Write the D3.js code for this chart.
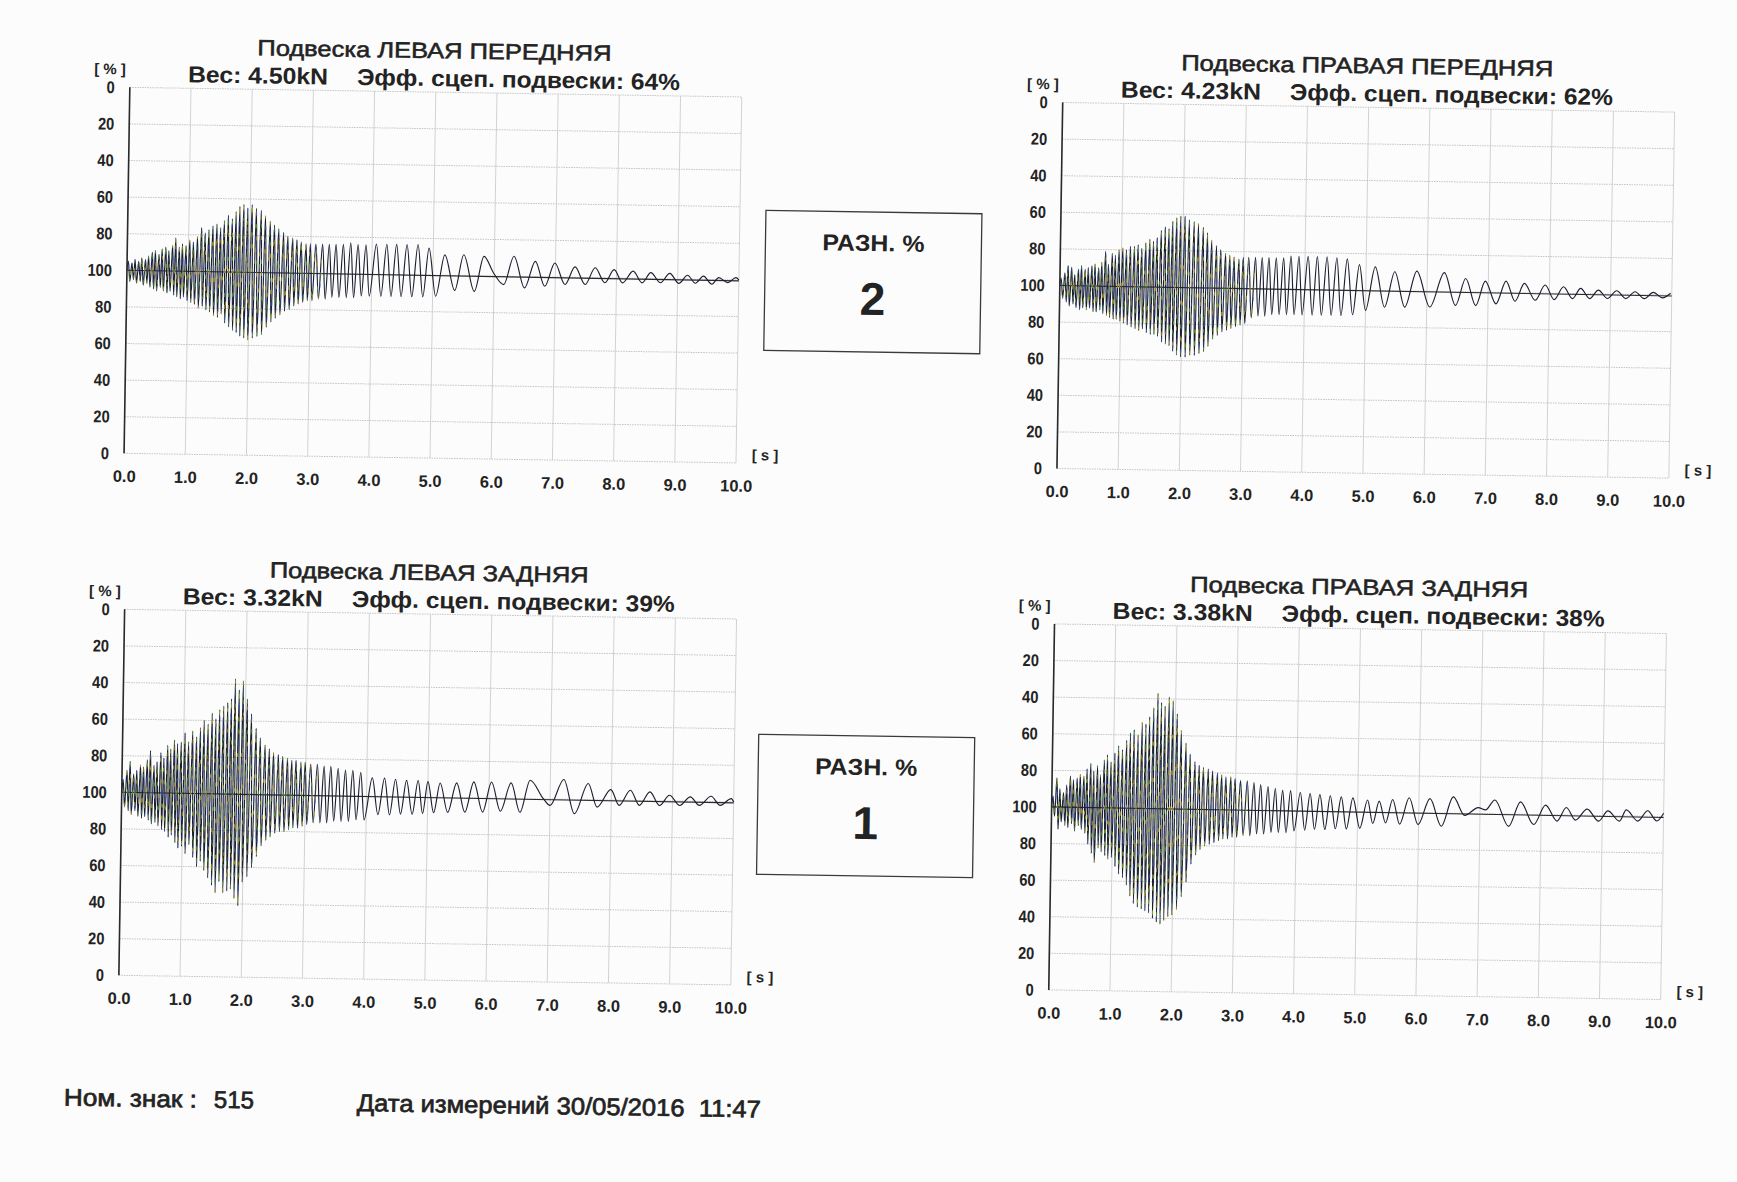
<!DOCTYPE html>
<html><head><meta charset="utf-8">
<script src="https://cdn.jsdelivr.net/npm/d3@7/dist/d3.min.js"></script>
<style>
html,body{margin:0;padding:0;background:#fcfcfc;}
svg{display:block;}
text{font-family:"Liberation Sans",Arial,sans-serif;fill:#232323;white-space:pre;}
</style></head><body>
<svg id="chart" width="1737" height="1182"></svg>
<script>
// ---------------- DATA ----------------
const timeTicks = [0,1,2,3,4,5,6,7,8,9,10];
const yTicks = [0,20,40,60,80,100,120,140,160,180,200];
const yTickLabels = ["0","20","40","60","80","100","80","60","40","20","0"];

const panelTitles = ["Подвеска ЛЕВАЯ ПЕРЕДНЯЯ","Подвеска ПРАВАЯ ПЕРЕДНЯЯ","Подвеска ЛЕВАЯ ЗАДНЯЯ","Подвеска ПРАВАЯ ЗАДНЯЯ"];
const panelWeights = ["Вес: 4.50kN","Вес: 4.23kN","Вес: 3.32kN","Вес: 3.38kN"];
const panelEff = ["Эфф. сцеп. подвески: 64%","Эфф. сцеп. подвески: 62%","Эфф. сцеп. подвески: 39%","Эфф. сцеп. подвески: 38%"];
const diffLabel = "РАЗН. %";
const diffValues = ["2","1"];
const plateLabel = "Ном. знак :";
const plateValue = "515";
const dateLabel = "Дата измерений 30/05/2016  11:47";

// mean line of every trace [t, value]
const meanLine = [[0,100],[10,99.5]];

// shared time grid of the dense part (alternating peak / trough), s
const denseTimes = [
 0.02,0.05,0.08,0.11,0.13,0.16,0.19,0.22,0.24,0.27,0.30,0.33,0.35,0.38,0.41,0.44,0.46,0.49,
 0.52,0.55,0.57,0.60,0.63,0.66,0.68,0.71,0.74,0.77,0.79,0.82,0.85,0.88,0.90,0.93,0.96,0.99,
 1.02,1.05,1.08,1.11,1.145,1.175,1.21,1.24,1.27,1.30,1.33,1.36,1.395,1.425,1.46,1.49,
 1.52,1.55,1.58,1.61,1.645,1.675,1.71,1.74,1.77,1.80,1.83,1.86,1.895,1.925,1.96,1.99,
 2.03,2.065,2.10,2.14,2.18,2.215,2.25,2.29,2.33,2.365,2.40,2.435,2.47,2.51,
 2.55,2.585,2.62,2.66,2.70,2.735,2.77,2.805,2.84,2.88,2.92,2.955,2.99,3.03,
 3.08,3.135,3.19,3.245,3.30,3.355,3.41,3.47,3.53,3.59,3.65,3.71,3.77,3.835,3.90,3.965
];

// dense values (%, 100 = static), front left
const denseLF = [
 105,94,104,95,106,93,105,94,107,92,106,93,108,91,110,90,111,89,109,91,112,89,113,88,111,89,114,87,118,86,113,85,115,86,114,84,
 117,83,116,82,119,80,124,81,121,79,123,78,125,76,126,75,124,77,128,72,131,70,129,68,133,67,136,65,137,64,135,63,
 137,64,135,65,134,66,131,70,128,73,126,75,124,77,122,79,120,80,119,82,118,83,117,84,116,85,116,85,
 116,86,116,86,116,87,116,87,116,87,117,87,116,88,116,88
];
const tailLF = [
 [4.07,116.5],[4.155,88],[4.24,116.5],[4.32,88],[4.40,116.5],[4.485,88],[4.57,116.5],[4.66,88],[4.75,116.6],[4.84,88],
 [4.93,114.7],[5.05,88.5],[5.19,111.2],[5.36,91.8],[5.50,111.4],[5.68,91.5],[5.83,110.7],[5.99,101.7],[6.16,95.4],
 [6.32,111.0],[6.50,93.8],[6.67,108.4],[6.83,94.9],[6.99,107.7],[7.16,96.0],[7.32,105.7],[7.49,96.2],[7.65,105.4],
 [7.81,97.3],[7.96,104.6],[8.10,97.4],[8.27,103.9],[8.42,97.6],[8.56,103.2],[8.72,97.8],[8.87,103.0],[9.02,97.6],
 [9.16,102.1],[9.29,97.8],[9.42,101.8],[9.56,97.4],[9.67,101.1],[9.82,98.4],[9.95,101.2],[10.0,100.0]
];

// front right
const denseRF = [
 104,93,107,91,111,89,110,90,106,88,109,87,111,88,109,87,110,88,111,86,112,86,110,87,113,85,119,84,112,83,118,82,117,82,120,81,
 121,80,120,79,122,78,122,77,123,76,121,77,124,75,126,74,125,74,127,73,131,70,133,69,132,68,136,65,138,63,139,62,
 139,62,137,63,136,63,135,64,133,65,130,68,126,72,123,74,121,76,119,77,118,78,117,79,116,80,117,81,
 117,84,117,85,117,85,117,86,117,86,117,86,118,86,118,86
];
const tailRF = [
 [4.05,118],[4.13,86],[4.20,118],[4.28,86],[4.36,118],[4.44,86],[4.52,117.5],[4.60,86],[4.69,117],[4.79,86.5],
 [4.89,114],[5.00,89],[5.15,112.9],[5.31,90.9],[5.47,110.4],[5.64,91.1],[5.83,110.9],[6.05,91.4],[6.28,110.3],
 [6.47,92.5],[6.63,107.3],[6.80,92.6],[6.95,106.0],[7.13,93.7],[7.29,106.2],[7.44,95.3],[7.59,105.1],[7.77,96.0],
 [7.93,104.4],[8.08,96.5],[8.23,103.6],[8.38,97.2],[8.51,102.9],[8.66,97.4],[8.80,102.1],[8.95,97.6],[9.10,101.9],
 [9.25,97.7],[9.40,101.5],[9.55,97.8],[9.70,101.3],[9.85,98.4],[9.98,101.0]
];

// rear left
const denseLR = [
 107,92,112,90,117,88,110,90,112,87,115,86,114,87,118,85,123,83,115,84,117,82,122,80,119,79,126,76,124,77,129,73,127,70,128,71,
 133,67,128,72,134,65,131,60,136,63,140,58,138,54,144,50,141,46,146,52,148,46,150,47,152,48,163,43,157,39,162,52,
 152,55,144,60,136,66,131,72,127,75,125,77,123,79,122,80,121,80,120,81,119,82,119,82,118,83,118,84,
 117,85,117,85,116,85,116,86,115,86,114,86,114,87,113,87
];
const tailLR = [
 [4.09,110],[4.19,90],[4.29,110],[4.38,90],[4.47,109.5],[4.56,90.5],[4.65,109],[4.75,90.5],[4.84,109],[4.92,91],
 [5.00,108.5],[5.10,91.5],[5.20,107.8],[5.33,91.8],[5.47,108],[5.61,92.1],[5.75,108.7],[5.90,92.3],[6.04,108.8],
 [6.19,92.9],[6.36,108.5],[6.51,92.5],[6.67,110.1],[6.89,100.1],[7.00,96.5],[7.22,110.8],[7.40,92.2],[7.62,108.8],
 [7.77,96.0],[7.99,105.7],[8.13,97.1],[8.31,105.5],[8.46,97.3],[8.63,104.8],[8.79,97.4],[8.95,103.1],[9.12,97.6],
 [9.29,102.4],[9.44,97.8],[9.63,102.9],[9.78,98.0],[9.96,101.8],[10.0,100.0]
];

// rear right
const denseRR = [
 106,95,116,88,110,92,108,90,112,89,117,91,115,87,116,90,118,88,117,86,121,80,124,75,120,70,123,78,118,76,126,74,129,72,125,73,
 130,68,134,64,132,62,137,58,141,52,143,48,140,46,147,45,146,44,150,43,155,40,163,38,158,37,156,39,161,41,159,42,
 152,45,143,52,136,60,130,70,126,75,124,78,123,80,122,81,121,82,120,83,119,84,118,84,118,85,117,85,
 116,86,116,86,115,87,114,87,113,88,112,88,111,88,111,89
];
const tailRR = [
 [4.06,110],[4.14,89.5],[4.22,109.5],[4.30,90],[4.38,109],[4.47,90],[4.55,108.5],[4.64,90.5],[4.73,108],[4.82,90.5],
 [4.92,107.5],[5.04,91],[5.16,106.5],[5.25,93.7],[5.35,106],[5.46,94.1],[5.57,107],[5.69,93.6],[5.84,108.1],[5.99,93.5],
 [6.18,107.8],[6.37,92.8],[6.56,108.9],[6.75,98.9],[6.97,103.3],[7.09,102.1],[7.24,107.6],[7.47,93.3],[7.66,106.8],
 [7.88,94.5],[8.07,105.2],[8.26,96.6],[8.41,104.1],[8.56,97.3],[8.75,103.4],[8.94,96.9],[9.09,102.6],[9.28,97.1],
 [9.39,103.3],[9.58,97.3],[9.74,103.0],[9.89,97.5],[10.0,101.8]
];

// ---------------- LAYOUT ----------------
const svg = d3.select("#chart");
svg.append("rect").attr("width",1737).attr("height",1182).attr("fill","#fcfcfc");
const page = svg.append("g").attr("transform","rotate(0.9 868 591)");

const PW = 612, PH = 366;
const panelPos = [[122,99],[1055,99.5],[125,621],[1055,621]];
const titleLen = [354,372,319,338];
const denseSets = [denseLF, denseRF, denseLR, denseRR];
const tailSets = [tailLF, tailRF, tailLR, tailRR];
const fringe = [["#d4c21c",0],["#66b844",12],["#3b58bb",24]];

function buildTrace(dense, tail){
  const pts = [[0,100]];
  denseTimes.forEach((t,i)=>pts.push([t, dense[i]]));
  return pts.concat(tail);
}
function condense(sel, f){
  sel.each(function(){
    const l = this.getComputedTextLength();
    d3.select(this).attr("textLength", l*f).attr("lengthAdjust","spacingAndGlyphs");
  });
}

panelPos.forEach((pos,k)=>{
  const [left, top] = pos;
  const x = d3.scaleLinear().domain([0,10]).range([left, left+PW]);
  const y = d3.scaleLinear().domain([0,200]).range([top+PH, top]);
  const g = page.append("g");

  // grid
  g.append("g").selectAll("line").data(timeTicks).join("line")
    .attr("x1",d=>x(d)).attr("x2",d=>x(d)).attr("y1",y(0)).attr("y2",y(200))
    .attr("stroke","#d2d2d2").attr("stroke-width",1);
  g.append("g").selectAll("line").data(yTicks).join("line")
    .attr("x1",x(0)).attr("x2",x(10)).attr("y1",d=>y(d)).attr("y2",d=>y(d))
    .attr("stroke","#c4c4c4").attr("stroke-width",1).attr("stroke-dasharray","1.5,1");

  // axes
  const ya = g.append("g").attr("transform",`translate(${x(0)},0)`)
    .call(d3.axisLeft(y).tickValues(yTicks).tickSize(0).tickPadding(15)
      .tickFormat((d,i)=>yTickLabels[i]));
  ya.select(".domain").remove();
  ya.selectAll("text").attr("font-size",17).attr("font-weight","bold")
    .attr("font-family","Liberation Sans, Arial, sans-serif").attr("fill","#232323");
  condense(ya.selectAll("text"), 0.86);
  const xa = g.append("g").attr("transform",`translate(0,${y(0)})`)
    .call(d3.axisBottom(x).tickValues(timeTicks).tickSize(0).tickPadding(17)
      .tickFormat(d3.format(".1f")));
  xa.select(".domain").remove();
  xa.selectAll("text").attr("font-size",16.5).attr("font-weight","bold")
    .attr("font-family","Liberation Sans, Arial, sans-serif").attr("fill","#232323");

  // mean line
  g.append("path").datum(meanLine)
    .attr("d", d3.line().x(d=>x(d[0])).y(d=>y(d[1])))
    .attr("fill","none").attr("stroke","#2a2a2a").attr("stroke-width",1.1);

  // trace
  const trace = buildTrace(denseSets[k], tailSets[k]);
  const lineGen = d3.line().x(d=>x(d[0])).y(d=>y(d[1])).curve(d3.curveMonotoneX);
  g.append("path").datum(trace).attr("d", lineGen)
    .attr("fill","none").attr("stroke","#1c1f30").attr("stroke-width",1.15);
  // scanner colour fringing over the dense part
  const densePart = trace.filter(d=>d[0] < 3.2);
  fringe.forEach(([c,off])=>{
    g.append("path").datum(densePart).attr("d", lineGen)
      .attr("fill","none").attr("stroke",c).attr("stroke-width",1.1)
      .attr("stroke-dasharray","4,32").attr("stroke-dashoffset",off).attr("opacity",0.6);
  });

  // y axis line
  g.append("line").attr("x1",x(0)).attr("x2",x(0)).attr("y1",y(0)).attr("y2",y(200))
    .attr("stroke","#2a2a2a").attr("stroke-width",1.6);

  // unit labels
  g.append("text").attr("x",left-20).attr("y",top-13).attr("text-anchor","middle")
    .attr("font-size",15).attr("font-weight","bold").text("[ % ]");
  g.append("text").attr("x",left+PW+29).attr("y",top+PH-3).attr("text-anchor","middle")
    .attr("font-size",15).attr("font-weight","bold").text("[ s ]");

  // titles
  g.append("text").attr("x",left+304).attr("y",top-34).attr("text-anchor","middle")
    .attr("font-size",22).attr("stroke","#232323").attr("stroke-width",0.55)
    .attr("textLength",titleLen[k]).attr("lengthAdjust","spacingAndGlyphs")
    .text(panelTitles[k]);
  g.append("text").attr("x",left+58).attr("y",top-6)
    .attr("font-size",23).attr("font-weight","bold")
    .attr("textLength",140).attr("lengthAdjust","spacingAndGlyphs")
    .text(panelWeights[k]);
  g.append("text").attr("x",left+227).attr("y",top-6)
    .attr("font-size",23).attr("font-weight","bold")
    .attr("textLength",323).attr("lengthAdjust","spacingAndGlyphs")
    .text(panelEff[k]);
});

// difference boxes
const boxPos = [[760,212],[761,736]];
boxPos.forEach((b,i)=>{
  const g = page.append("g");
  g.append("rect").attr("x",b[0]).attr("y",b[1]).attr("width",216).attr("height",140)
    .attr("fill","none").attr("stroke","#3a3a3a").attr("stroke-width",1.3);
  g.append("text").attr("x",b[0]+108).attr("y",b[1]+39).attr("text-anchor","middle")
    .attr("font-size",23).attr("font-weight","bold")
    .attr("textLength",102).attr("lengthAdjust","spacingAndGlyphs").text(diffLabel);
  g.append("text").attr("x",b[0]+108).attr("y",b[1]+103).attr("text-anchor","middle")
    .attr("font-size",46).attr("font-weight","bold").text(diffValues[i]);
});

// footer
const foot = page.append("g");
foot.append("text").attr("x",72).attr("y",1118).attr("font-size",24)
  .attr("stroke","#232323").attr("stroke-width",0.7)
  .attr("textLength",133).attr("lengthAdjust","spacingAndGlyphs").text(plateLabel);
foot.append("text").attr("x",222).attr("y",1118).attr("font-size",24)
  .attr("stroke","#232323").attr("stroke-width",0.7)
  .attr("textLength",40).attr("lengthAdjust","spacingAndGlyphs").text(plateValue);
foot.append("text").attr("x",365).attr("y",1119).attr("font-size",24)
  .attr("stroke","#232323").attr("stroke-width",0.7)
  .attr("textLength",404).attr("lengthAdjust","spacingAndGlyphs").text(dateLabel);
</script>
</body></html>
